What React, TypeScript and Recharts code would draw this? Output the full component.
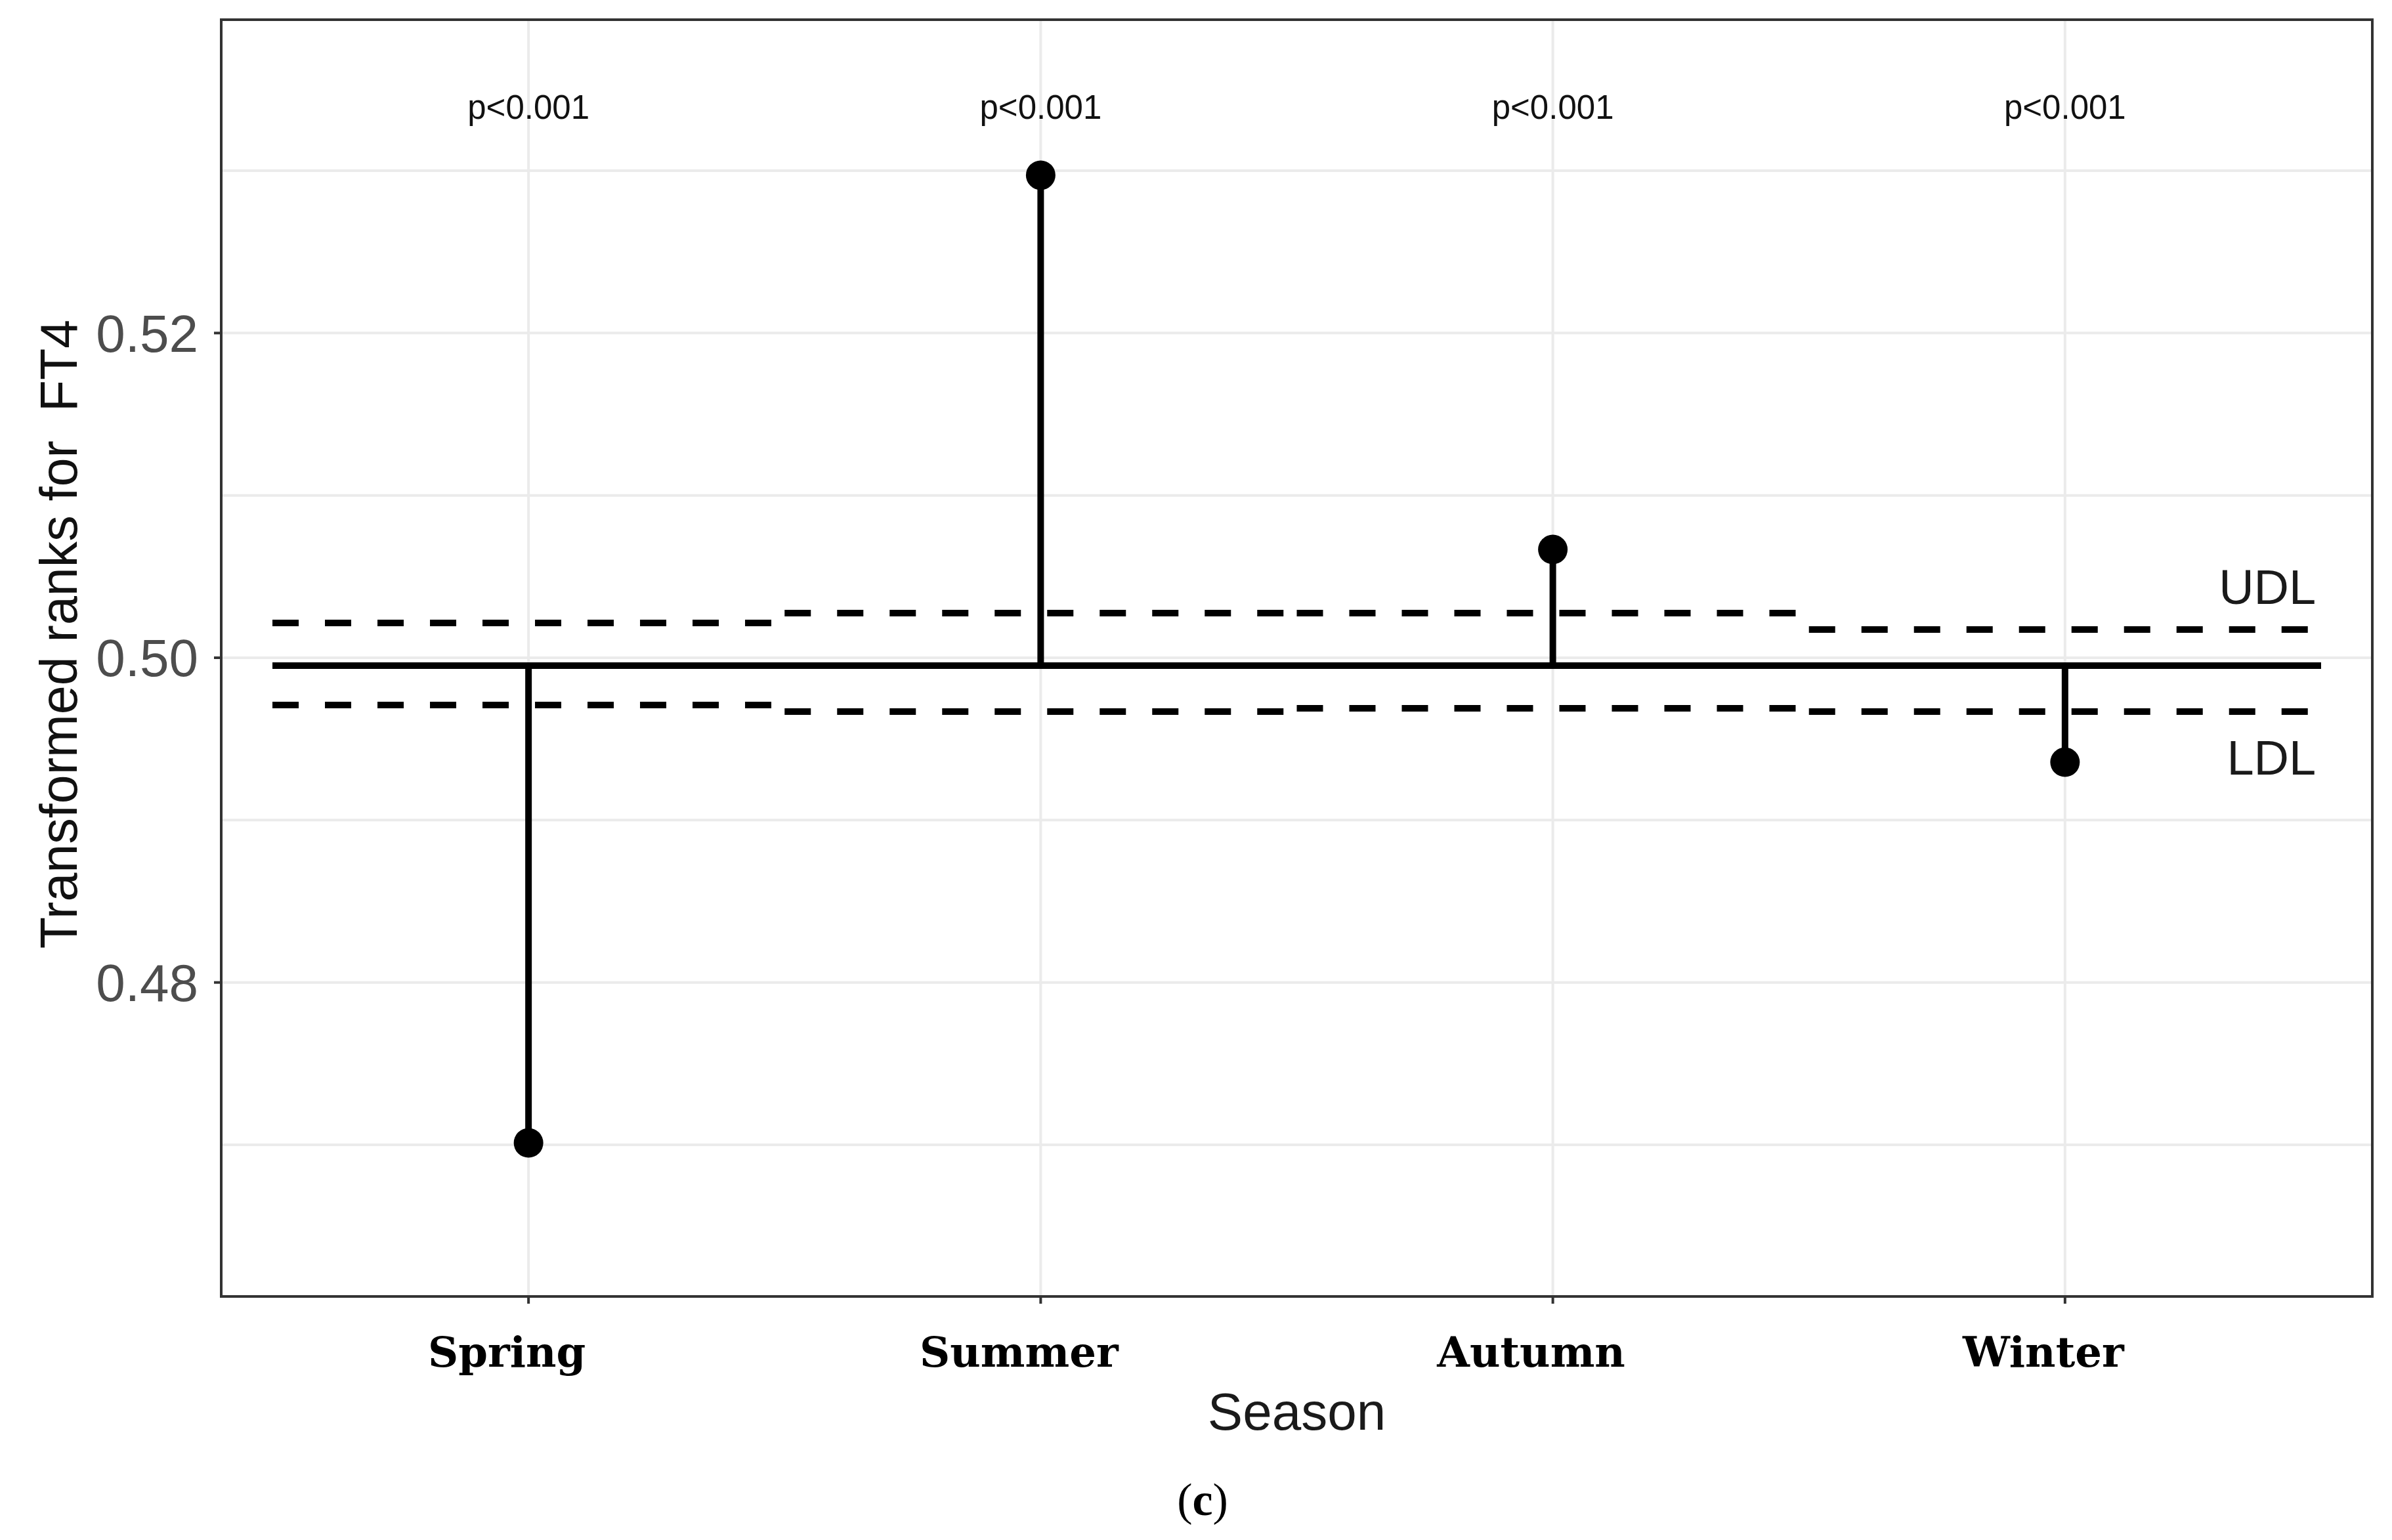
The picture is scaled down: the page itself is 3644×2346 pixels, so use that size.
import React from "react";
import {
  CartesianGrid,
  ComposedChart,
  Label,
  ReferenceArea,
  ReferenceLine,
  Scatter,
  XAxis,
  YAxis,
} from "recharts";

// values
const SEASONS = ["Spring", "Summer", "Autumn", "Winter"];
const SEASON_POS = [1, 2, 3, 4];
const STAT = [0.47012, 0.52972, 0.50667, 0.49357];
const CENTER = 0.49951;
const UDL = [0.50214, 0.50275, 0.50275, 0.50174];
const LDL = [0.49709, 0.49668, 0.49689, 0.49668];
const P_LABELS = ["p<0.001", "p<0.001", "p<0.001", "p<0.001"];
const P_LABEL_Y = 0.5339;
const LIMIT_LABELS = ["UDL", "LDL"];
const LIMIT_LABEL_Y = [0.50332, 0.4928];
const LIMIT_LABEL_X = 4.49;

const Y_DOMAIN: [number, number] = [0.46066, 0.5393];
const X_DOMAIN: [number, number] = [0.4, 4.6];
const Y_TICKS = [0.48, 0.5, 0.52];
const Y_GRID = [0.47, 0.48, 0.49, 0.5, 0.51, 0.52, 0.53];

const SANS = "'Liberation Sans', Arial, sans-serif";
const INK = "#000000";
const BORDER = "#333333";

const pointData = SEASON_POS.map((x, i) => ({ x, y: STAT[i] }));
const pLabelData = SEASON_POS.map((x, i) => ({ x, y: P_LABEL_Y, text: P_LABELS[i] }));
const limitLabelData = LIMIT_LABELS.map((text, i) => ({
  x: LIMIT_LABEL_X,
  y: LIMIT_LABEL_Y[i],
  text,
}));

function SeasonTick(props: any) {
  const { x, y, payload } = props;
  return (
    <text
      x={x - 33}
      y={y + 94}
      textAnchor="middle"
      fontFamily="'DejaVu Serif', serif"
      fontWeight="bold"
      fontSize={64}
      fill={INK}
    >
      {SEASONS[payload.value - 1]}
    </text>
  );
}

function PLabel(props: any) {
  const { cx, cy, payload } = props;
  return (
    <text x={cx} y={cy} textAnchor="middle" dominantBaseline="central" fontFamily={SANS} fontSize={51} fill="#111">
      {payload.text}
    </text>
  );
}

function LimitLabel(props: any) {
  const { cx, cy, payload } = props;
  return (
    <text x={cx} y={cy} textAnchor="end" fontFamily={SANS} fontSize={74} fill="#1a1a1a">
      {payload.text}
    </text>
  );
}

function Dot(props: any) {
  const { cx, cy } = props;
  return <circle cx={cx} cy={cy} r={22.5} fill={INK} />;
}

export default function App() {
  return (
    <div style={{ position: "fixed", left: 0, top: 0, width: 3644, height: 2346, background: "#fff" }}>
      <ComposedChart width={3644} height={2346} margin={{ top: 30, right: 30, bottom: 0, left: 0 }}>
        <CartesianGrid
          stroke="#EBEBEB"
          strokeWidth={4}
          horizontalValues={Y_GRID}
          verticalValues={SEASON_POS}
        />
        <XAxis
          type="number"
          dataKey="x"
          domain={X_DOMAIN}
          ticks={SEASON_POS}
          allowDataOverflow
          height={371}
          axisLine={false}
          tickLine={{ stroke: BORDER, strokeWidth: 4 }}
          tickSize={11}
          tick={<SeasonTick />}
        >
          <Label
            content={(p: any) => {
              const vb = p.viewBox;
              const cx = vb.x + vb.width / 2;
              return (
                <g>
                  <text x={cx} y={vb.y + 203} textAnchor="middle" fontFamily={SANS} fontSize={80} fill="#1a1a1a">
                    Season
                  </text>
                  <text x={1832} y={vb.y + 333} textAnchor="middle" fontFamily="'Liberation Serif', serif" fontSize={70} fill={INK}>
                    (<tspan fontWeight="bold">c</tspan>)
                  </text>
                </g>
              );
            }}
          />
        </XAxis>
        <YAxis
          type="number"
          dataKey="y"
          domain={Y_DOMAIN}
          ticks={Y_TICKS}
          allowDataOverflow
          width={337}
          axisLine={false}
          tickLine={{ stroke: BORDER, strokeWidth: 4 }}
          tickSize={11}
          tickMargin={24}
          tickFormatter={(v: number) => v.toFixed(2)}
          tick={{ fill: "#4D4D4D", fontSize: 80, fontFamily: SANS }}
        >
          <Label
            content={() => (
              <text
                x={117}
                y={966}
                transform="rotate(-90 117 966)"
                textAnchor="middle"
                fontFamily={SANS}
                fontSize={79}
                fill="#111"
                style={{ whiteSpace: "pre" }}
              >
                {"Transformed ranks for  FT4"}
              </text>
            )}
          />
        </YAxis>

        {/* decision limits, one dashed piece per season */}
        {SEASON_POS.map((x, i) => (
          <ReferenceLine
            key={`udl-${i}`}
            segment={[{ x: x - 0.5, y: UDL[i] }, { x: x + 0.5, y: UDL[i] }]}
            stroke={INK}
            strokeWidth={10}
            strokeDasharray="40 40"
          />
        ))}
        {SEASON_POS.map((x, i) => (
          <ReferenceLine
            key={`ldl-${i}`}
            segment={[{ x: x - 0.5, y: LDL[i] }, { x: x + 0.5, y: LDL[i] }]}
            stroke={INK}
            strokeWidth={10}
            strokeDasharray="40 40"
          />
        ))}

        {/* center line */}
        <ReferenceLine
          segment={[{ x: SEASON_POS[0] - 0.5, y: CENTER }, { x: SEASON_POS[3] + 0.5, y: CENTER }]}
          stroke={INK}
          strokeWidth={10}
        />

        {/* stems */}
        {SEASON_POS.map((x, i) => (
          <ReferenceLine
            key={`stem-${i}`}
            segment={[{ x, y: CENTER }, { x, y: STAT[i] }]}
            stroke={INK}
            strokeWidth={10}
          />
        ))}

        <Scatter data={pointData} shape={<Dot />} isAnimationActive={false} />
        <Scatter data={pLabelData} shape={<PLabel />} isAnimationActive={false} />
        <Scatter data={limitLabelData} shape={<LimitLabel />} isAnimationActive={false} />

        {/* panel border */}
        <ReferenceArea
          x1={X_DOMAIN[0]}
          x2={X_DOMAIN[1]}
          y1={Y_DOMAIN[0]}
          y2={Y_DOMAIN[1]}
          fill="none"
          fillOpacity={0}
          stroke={BORDER}
          strokeWidth={4}
          ifOverflow="visible"
        />
      </ComposedChart>
    </div>
  );
}
